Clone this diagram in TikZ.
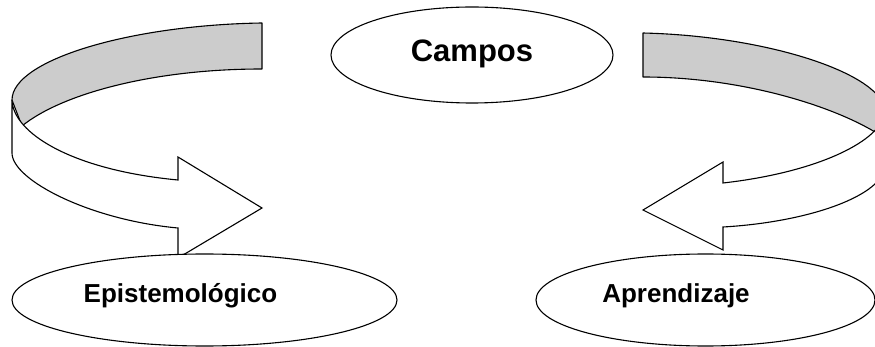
\documentclass[tikz,border=0pt]{standalone}
\usepackage{fontspec}
\setmainfont{Liberation Sans}
\usetikzlibrary{shapes.geometric}
\definecolor{bandgrey}{RGB}{204,204,204}
\tikzset{
  ellipsebox/.style={ellipse, draw=black, line width=1.1pt, fill=white, inner sep=0pt},
  lbl/.style={font=\bfseries\fontsize{26}{30}\selectfont, inner sep=0pt, anchor=base},
  bigbl/.style={font=\bfseries\fontsize{31}{35}\selectfont, inner sep=0pt, anchor=base},
  bandback/.style={draw=black, line width=1.1pt, fill=bandgrey, line join=round},
  bandfront/.style={draw=black, line width=1.1pt, fill=white, line join=miter}
}
\begin{document}
\begin{tikzpicture}[x=1pt,y=-1pt]
\useasboundingbox (0,0) rectangle (875,347);
\begin{scope}
\clip (0,0) rectangle (875,347);
% left curved arrow
\draw[bandback] (262,23) -- (262,69) .. controls (150,69) and (60,95) .. (22,126)
  -- (12,100) .. controls (12,60) and (130,25) .. (262,23) -- cycle;
\draw[bandfront] (12,100) .. controls (13,133) and (72,170) .. (178,180)
  -- (178,157) -- (262,208) -- (178,258) -- (178,228)
  .. controls (90,220) and (12,180) .. (12,153) -- cycle;
% right curved arrow
\draw[bandback] (643,33) -- (643,77) .. controls (740,77) and (830,105) .. (875,132)
  -- (885,112) .. controls (885,75) and (770,36) .. (643,33) -- cycle;
\draw[bandfront] (885,112) .. controls (882,140) and (820,172) .. (723,183)
  -- (723,162) -- (643,210) -- (723,250) -- (723,227)
  .. controls (810,222) and (885,195) .. (885,165) -- cycle;
% ellipses
\node[ellipsebox, minimum width=282pt, minimum height=96pt] (campos) at (472,55) {};
\node[ellipsebox, minimum width=385pt, minimum height=92pt] (epi) at (204.5,300) {};
\node[ellipsebox, minimum width=339pt, minimum height=92pt] (apr) at (705.5,300) {};
\end{scope}
\node[bigbl] (campost) at (472,62) {Campos};
\node[lbl] (epit) at (180.5,302) {Epistemológico};
\node[lbl] (aprt) at (676,302) {Aprendizaje};
\end{tikzpicture}
\end{document}
